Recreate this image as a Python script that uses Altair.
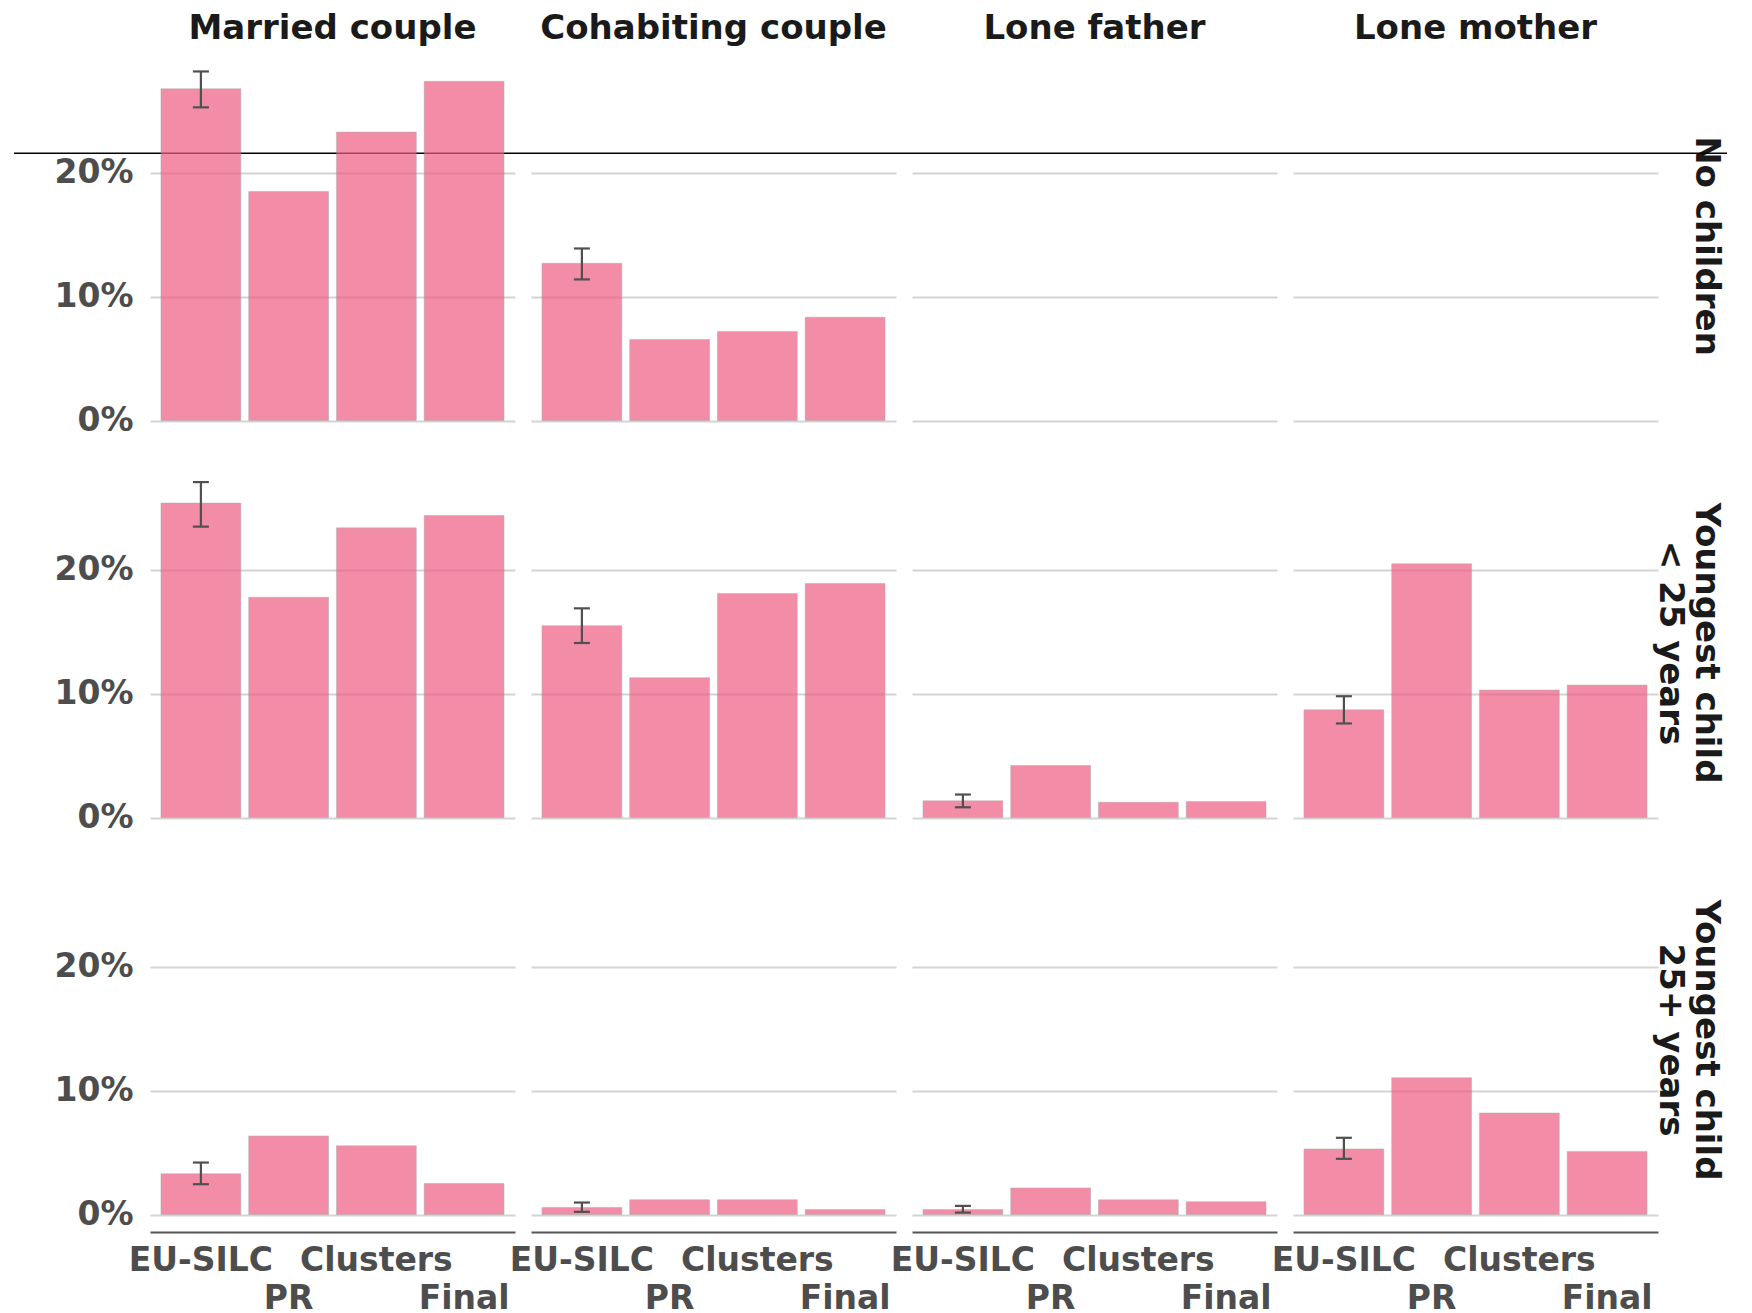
import altair as alt
import pandas as pd

# ---- data ----
household = ["Married couple", "Cohabiting couple", "Lone father", "Lone mother"]
children = ["No children", "Youngest child|< 25 years", "Youngest child|25+ years"]
methods = ["EU-SILC", "PR", "Clusters", "Final"]

# values in percent, order: EU-SILC, PR, Clusters, Final (None = no bar drawn)
vals = {
    ("No children", "Married couple"): [26.8, 18.5, 23.3, 27.4],
    ("No children", "Cohabiting couple"): [12.7, 6.55, 7.2, 8.35],
    ("No children", "Lone father"): [None, None, None, None],
    ("No children", "Lone mother"): [None, None, None, None],
    ("Youngest child|< 25 years", "Married couple"): [25.4, 17.8, 23.4, 24.4],
    ("Youngest child|< 25 years", "Cohabiting couple"): [15.5, 11.3, 18.1, 18.9],
    ("Youngest child|< 25 years", "Lone father"): [1.35, 4.2, 1.24, 1.3],
    ("Youngest child|< 25 years", "Lone mother"): [8.7, 20.5, 10.3, 10.7],
    ("Youngest child|25+ years", "Married couple"): [3.3, 6.35, 5.55, 2.5],
    ("Youngest child|25+ years", "Cohabiting couple"): [0.57, 1.2, 1.2, 0.4],
    ("Youngest child|25+ years", "Lone father"): [0.4, 2.15, 1.19, 1.03],
    ("Youngest child|25+ years", "Lone mother"): [5.3, 11.05, 8.2, 5.1],
}
# confidence interval of the EU-SILC bar: (low, high)
ci = {
    ("No children", "Married couple"): (25.3, 28.2),
    ("No children", "Cohabiting couple"): (11.4, 13.9),
    ("No children", "Lone father"): (None, None),
    ("No children", "Lone mother"): (None, None),
    ("Youngest child|< 25 years", "Married couple"): (23.5, 27.1),
    ("Youngest child|< 25 years", "Cohabiting couple"): (14.1, 16.9),
    ("Youngest child|< 25 years", "Lone father"): (0.83, 1.86),
    ("Youngest child|< 25 years", "Lone mother"): (7.6, 9.8),
    ("Youngest child|25+ years", "Married couple"): (2.45, 4.2),
    ("Youngest child|25+ years", "Cohabiting couple"): (0.22, 0.97),
    ("Youngest child|25+ years", "Lone father"): (0.16, 0.7),
    ("Youngest child|25+ years", "Lone mother"): (4.5, 6.2),
}
stray_line_value = 21.6  # horizontal black line across the top row
y_domain = [-1.41, 29.61]

records = []
for r in children:
    for c in household:
        vs = vals[(r, c)]
        for m, v in zip(methods, vs):
            lo, hi = ci[(r, c)] if m == "EU-SILC" else (None, None)
            line = stray_line_value if (r == "No children" and c == "Married couple" and m == "EU-SILC") else None
            records.append({"row": r, "col": c, "method": m, "value": v, "lo": lo, "hi": hi, "line": line})
df = pd.DataFrame(records)

FONT = "DejaVu Sans"
LABEL_GRAY = "#4d4d4d"

x_enc = alt.X(
    "method:N",
    sort=methods,
    scale=alt.Scale(paddingInner=0.09, paddingOuter=0.125),
    axis=alt.Axis(
        title=None,
        ticks=False,
        domain=True,
        domainColor="#555555",
        domainWidth=2,
        labelAngle=0,
        labelOverlap=False,
        labelFlush=False,
        labelPadding=12,
        labelBaseline="top",
        labelLineHeight=38,
        labelFont=FONT,
        labelFontSize=33,
        labelFontWeight="bold",
        labelColor=LABEL_GRAY,
        labelExpr="(datum.label == 'PR' || datum.label == 'Final') ? ['', datum.label] : datum.label",
        grid=False,
    ),
)
y_scale = alt.Scale(domain=y_domain, nice=False, zero=False)
y_axis = alt.Axis(
    title=None,
    values=[0, 10, 20],
    labelExpr="datum.value + '%'",
    domain=False,
    ticks=False,
    grid=True,
    gridColor="#d4d4d4",
    gridWidth=2,
    labelFont=FONT,
    labelFontSize=33,
    labelFontWeight="bold",
    labelColor=LABEL_GRAY,
    labelPadding=17,
)

base = alt.Chart()

stray = base.mark_rule(color="black", strokeWidth=1.5).encode(
    y=alt.Y("line:Q", scale=y_scale, axis=y_axis),
    x=alt.value(-136),
    x2=alt.value(1577),
)

bars = base.mark_bar(
    color="#EF5C83", opacity=0.7, stroke="#8a8a8a", strokeWidth=0.8, strokeOpacity=0.6
).encode(
    x=x_enc,
    y=alt.Y("value:Q", scale=y_scale, axis=y_axis),
    y2=alt.datum(0),
)

err = base.mark_rule(color="#505050", strokeWidth=2.2).encode(
    x=x_enc,
    y=alt.Y("lo:Q", scale=y_scale, axis=y_axis),
    y2="hi:Q",
)

cap_lo = base.mark_tick(color="#505050", thickness=2.2, size=16, opacity=1).encode(
    x=x_enc, y=alt.Y("lo:Q", scale=y_scale, axis=y_axis)
)
cap_hi = base.mark_tick(color="#505050", thickness=2.2, size=16, opacity=1).encode(
    x=x_enc, y=alt.Y("hi:Q", scale=y_scale, axis=y_axis)
)

layered = alt.layer(stray, bars, err, cap_lo, cap_hi).properties(width=365, height=384)

chart = layered.facet(
    data=df,
    row=alt.Row(
        "row:N",
        sort=children,
        title=None,
        header=alt.Header(
            labelOrient="right",
            labelAngle=90,
            labelAlign="center",
            labelBaseline="middle",
            labelPadding=-22,
            labelFont=FONT,
            labelFontSize=34,
            labelFontWeight="bold",
            labelColor="#1a1a1a",
            labelLineHeight=36,
            labelExpr="indexof(datum.label, '|') >= 0 ? split(datum.label, '|') : [datum.label, '']",
        ),
    ),
    column=alt.Column(
        "col:N",
        sort=household,
        title=None,
        header=alt.Header(
            labelOrient="top",
            labelPadding=8,
            labelFont=FONT,
            labelFontSize=34,
            labelFontWeight="bold",
            labelColor="#1a1a1a",
        ),
    ),
    spacing={"row": 13, "column": 16},
    bounds="flush",
).properties(
    padding={"left": 5, "top": 4, "right": 0, "bottom": 0}
).configure(background="white").configure_view(stroke=None)

chart.save("out.html", embed_options={"renderer": "svg", "actions": False})
